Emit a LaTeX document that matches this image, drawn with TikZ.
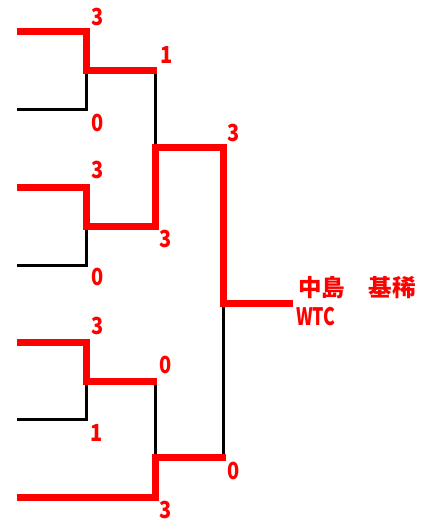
\documentclass[tikz,border=0pt]{standalone}
\usepackage{fontspec}
\newfontfamily\jpfont{Noto Sans CJK JP}
\newfontfamily\numfont{Noto Sans CJK JP}[FakeStretch=0.85]
\newfontfamily\clubfont{Noto Sans CJK JP}[FakeStretch=0.74]
\definecolor{winred}{RGB}{255,0,0}
\begin{document}
\begin{tikzpicture}[x=1pt,y=-1pt,
  win/.style={draw=winred,line width=7pt,line join=miter},
  lose/.style={draw=black,line width=3pt},
  score/.style={anchor=west,inner sep=0pt,text=winred,font=\numfont\bfseries\fontsize{23.5}{23.5}\selectfont},
  clublabel/.style={anchor=west,inner sep=0pt,text=winred,font=\clubfont\bfseries\fontsize{24}{24}\selectfont},
  winlabel/.style={anchor=west,inner sep=0pt,text=winred,font=\jpfont\bfseries\fontsize{23.5}{23.5}\selectfont}]
\useasboundingbox (0,0) rectangle (428,522);
% players (left ends)
\coordinate (p1) at (17,31.5);
\coordinate (p2) at (17,109);
\coordinate (p3) at (17,187);
\coordinate (p4) at (17,265);
\coordinate (p5) at (17,342);
\coordinate (p6) at (17,419);
\coordinate (p7) at (17,497);
% round 1 junctions
\coordinate (m1) at (86.5,70.5);
\coordinate (m2) at (86.5,226);
\coordinate (m3) at (86.5,381);
% round 1 output ends
\coordinate (m1e) at (155.5,70.5);
\coordinate (m2e) at (155.5,226);
\coordinate (m3e) at (155.5,381);
% semifinal junctions
\coordinate (s1) at (155.5,147);
\coordinate (s2) at (155.5,457);
\coordinate (s1e) at (223.5,147);
\coordinate (s2e) at (223.5,457);
% final
\coordinate (f) at (223.5,303);
\coordinate (w) at (293,303);
% losing lines
\draw[lose] (p2) -| (m1);
\draw[lose] (p4) -| (m2);
\draw[lose] (p6) -| (m3);
\draw[lose] (m1e) -- (s1);
\draw[lose] (m3e) -- (s2);
\draw[lose] (f) -- (s2e);
% winning lines
\draw[win] (p1) -| (m1) -- ([xshift=1.5pt]m1e);
\draw[win] (p3) -| (m2) -| (s1) -| (f) -- (w);
\draw[win] (p5) -| (m3) -- ([xshift=1.5pt]m3e);
\draw[win] (p7) -| (s2) -- ([xshift=2.5pt]s2e);
% scores
\node[score] (t1) at (91.5,17) {3};
\node[score] (t2) at (91.5,123) {0};
\node[score] (t3) at (160.5,55) {1};
\node[score] (t4) at (91.5,170) {3};
\node[score] (t5) at (159.5,239) {3};
\node[score] (t6) at (91.5,277) {0};
\node[score] (t7) at (227.5,133) {3};
\node[score] (t8) at (91.5,326) {3};
\node[score] (t9) at (159.5,365) {0};
\node[score] (t10) at (90.5,433) {1};
\node[score] (t11) at (227.5,471) {0};
\node[score] (t12) at (159.5,510) {3};
% winner
\node[winlabel] (wn) at (298,287.5) {中島　基稀};
\node[clublabel] (wt) at (296,317) {WTC};
\end{tikzpicture}
\end{document}
